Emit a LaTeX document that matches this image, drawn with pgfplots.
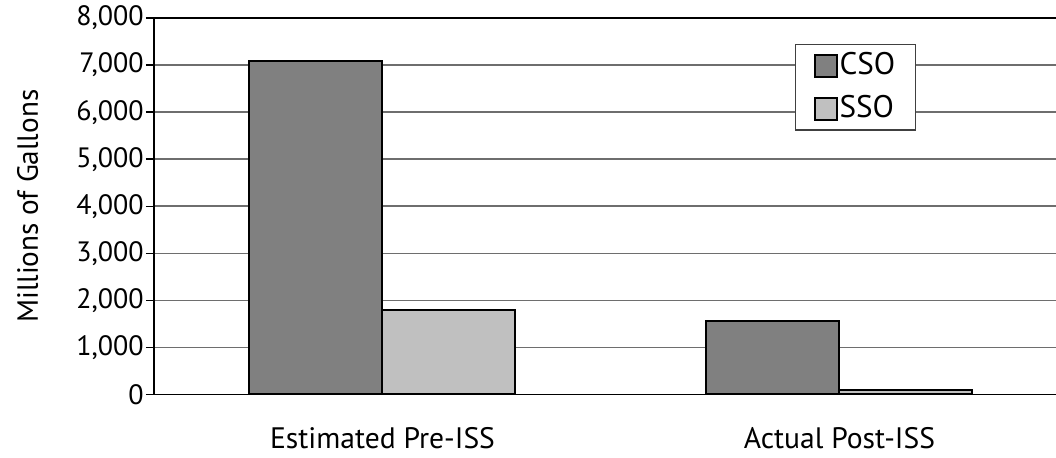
\documentclass[border=0pt]{standalone}
\usepackage{fontspec}
\setmainfont{PT Sans}
\usepackage{pgfplots}
\pgfplotsset{compat=1.18}
\definecolor{cso}{HTML}{808080}
\definecolor{sso}{HTML}{C0C0C0}
\definecolor{gridc}{HTML}{6E6E6E}

\begin{document}
\begin{tikzpicture}
\fontsize{15}{18}\selectfont
\begin{axis}[
  name=ax,
  scale only axis,
  width=451pt, height=188.25pt,
  ybar=0pt, bar width=66.5pt,
  xmin=-0.5, xmax=1.474,
  ymin=0, ymax=8000,
  ytick={0,1000,...,7000},
  extra y ticks={8000},
  extra y tick style={grid style={black,line width=1.3pt}},
  ymajorgrids=true,
  grid style={gridc,line width=0.75pt},
  axis x line*=bottom,
  axis y line*=left,
  axis line style={black,line width=0.7pt,-},
  tick align=outside,
  major tick length=4pt,
  ytick style={black,line width=0.7pt},
  xtick=data,
  xticklabels={Estimated Pre-ISS,Actual Post-ISS},
  xtick style={draw=none},
  x tick label style={inner ysep=0pt,yshift=-12.5pt,font=\fontsize{14.8}{18}\selectfont},
  y tick label style={inner xsep=1pt,font=\fontsize{14}{16}\selectfont},
  /pgf/number format/assume math mode=true,
  /pgf/number format/1000 sep={,},
  scaled y ticks=false,
  ylabel={Millions of Gallons},
  ylabel style={at={(axis description cs:-0.14,0.5)},anchor=center,font=\fontsize{14.6}{17}\selectfont},
  legend style={at={(0.7106,0.931)},anchor=north west,draw=black!75,fill=white,
    line width=0.6pt,inner xsep=9pt,inner ysep=2pt,row sep=4pt,
    font=\fontsize{15.6}{18}\selectfont,
    nodes={inner xsep=1pt,inner ysep=2pt}},
  legend cell align=left,
  legend image code/.code={\draw[#1,line width=1pt] (0pt,-5.5pt) rectangle (11pt,5.5pt);},
]
\addplot[fill=cso,draw=black,line width=1pt] coordinates {(0,7090) (1,1560)};
\addplot[fill=sso,draw=black,line width=1pt] coordinates {(0,1800) (1,90)};
\legend{CSO,SSO}
\end{axis}
\pgfresetboundingbox
\path ([xshift=-77pt,yshift=-31.75pt]ax.south west) rectangle ([yshift=9pt]ax.north east);
\end{tikzpicture}
\end{document}
